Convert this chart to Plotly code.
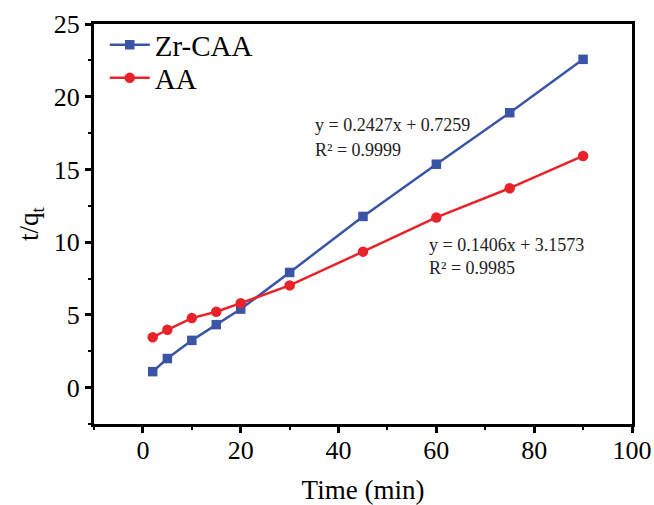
import plotly.graph_objects as go

time = [2, 5, 10, 15, 20, 30, 45, 60, 75, 90]
zr_caa = [1.1, 2.0, 3.25, 4.33, 5.4, 7.92, 11.77, 15.36, 18.9, 22.57]
aa = [3.46, 3.98, 4.78, 5.22, 5.81, 7.03, 9.35, 11.70, 13.71, 15.93]

x_ticks = [0, 20, 40, 60, 80, 100]
y_ticks = [0, 5, 10, 15, 20, 25]

font_family = "Liberation Serif, Times New Roman, serif"
blue = "#3a54a6"
red = "#e8222b"

fig = go.Figure()
fig.add_trace(go.Scatter(x=time, y=zr_caa, mode="lines+markers", name="Zr-CAA",
                         line=dict(color=blue, width=2.5),
                         marker=dict(symbol="square", size=9.5, color=blue),
                         legend="legend"))
fig.add_trace(go.Scatter(x=time, y=aa, mode="lines+markers", name="AA",
                         line=dict(color=red, width=2.5),
                         marker=dict(symbol="circle", size=10.5, color=red),
                         legend="legend2"))

axis_common = dict(showline=True, linecolor="black", linewidth=3, mirror=True,
                   ticks="outside", ticklen=6, tickwidth=2.5, tickcolor="black",
                   showgrid=False, zeroline=False, automargin=False,
                   tickfont=dict(family=font_family, size=26, color="black"))

fig.update_xaxes(range=[-10, 100], tickvals=x_ticks, ticklabelstandoff=-5,
                 minor=dict(ticks="outside", ticklen=3, tickwidth=2, tickcolor="black", dtick=10, tick0=0),
                 title=dict(text="Time (min)", font=dict(family=font_family, size=27, color="black"), standoff=16),
                 **axis_common)
fig.update_yaxes(range=[-2.5, 25], tickvals=y_ticks,
                 minor=dict(ticks="outside", ticklen=3, tickwidth=2, tickcolor="black", dtick=2.5, tick0=0),
                 title=dict(text="t/q<sub>t</sub>", font=dict(family=font_family, size=27, color="black"), standoff=8),
                 **axis_common)

ann_font = dict(family=font_family, size=18, color="#222")
fig.add_annotation(x=34.7, y=18.06, xref="x", yref="y", text="y = 0.2427x + 0.7259",
                   showarrow=False, xanchor="left", yanchor="middle", font=ann_font)
fig.add_annotation(x=34.7, y=16.35, xref="x", yref="y", text="R² = 0.9999",
                   showarrow=False, xanchor="left", yanchor="middle", font=ann_font)
fig.add_annotation(x=58.0, y=9.82, xref="x", yref="y", text="y = 0.1406x + 3.1573",
                   showarrow=False, xanchor="left", yanchor="middle", font=ann_font)
fig.add_annotation(x=58.0, y=8.24, xref="x", yref="y", text="R² = 0.9985",
                   showarrow=False, xanchor="left", yanchor="middle", font=ann_font)

legend_common = dict(xanchor="left", yanchor="middle", bgcolor="rgba(0,0,0,0)",
                     font=dict(family=font_family, size=29, color="black"),
                     itemwidth=40)
fig.update_layout(width=654, height=505,
                  margin=dict(l=94, r=22, t=24, b=81),
                  plot_bgcolor="white", paper_bgcolor="white",
                  legend=dict(x=0.02, y=0.9475, **legend_common),
                  legend2=dict(x=0.02, y=0.865, **legend_common),
                  showlegend=True)

fig.write_html("out.html")
